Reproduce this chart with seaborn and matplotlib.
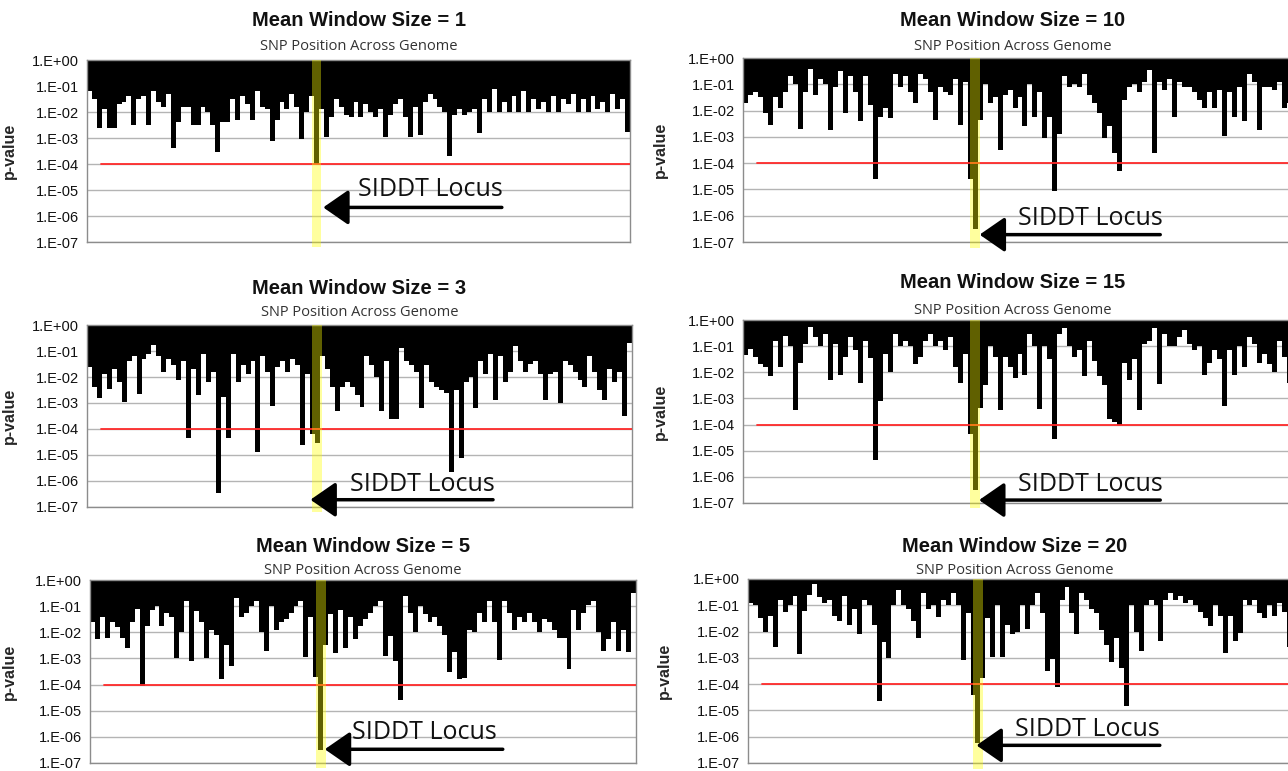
import numpy as np
import pandas as pd
import seaborn as sns
import matplotlib.pyplot as plt

# log10(p-value) per SNP window left to right
win1 = [-1.2, -1.5, -2.6, -1.9, -2.6, -2.6, -1.7, -1.6, -1.4, -2.5, -1.5, -1.4, -2.5, -1.2, -1.6, -1.8,
        -1.3, -3.4, -2.4, -1.8, -1.8, -2.5, -2.5, -1.8, -2.0, -2.5, -3.55, -2.4, -2.4, -1.5, -2.3, -1.4,
        -1.7, -2.3, -1.2, -1.8, -1.9, -3.1, -2.3, -1.6, -1.9, -1.3, -1.8, -3.05, -2.0, -1.4, -4.0, -1.9,
        -2.95, -2.2, -1.5, -1.8, -2.1, -2.2, -1.6, -2.2, -1.7, -2.0, -2.2, -1.9, -2.95, -2.1, -1.7, -1.5,
        -2.2, -2.95, -1.8, -2.9, -1.6, -1.3, -1.5, -1.8, -2.0, -3.7, -2.1, -1.9, -2.1, -2.0, -1.9, -2.8,
        -1.5, -2.0, -1.1, -2.0, -1.6, -2.0, -1.4, -2.0, -1.2, -2.0, -1.5, -1.9, -1.6, -2.0, -1.4, -2.0,
        -1.5, -1.7, -1.3, -2.0, -1.5, -2.0, -1.4, -1.9, -1.6, -2.0, -1.3, -1.9, -1.5, -2.75]
win3 = [-1.6, -2.4, -2.8, -1.9, -2.45, -1.7, -2.2, -2.95, -1.4, -1.2, -2.65, -1.3, -1.1, -0.75, -1.2, -1.8,
        -1.3, -1.55, -2.1, -1.4, -4.35, -1.7, -2.7, -1.1, -2.2, -1.8, -6.45, -2.75, -4.35, -1.1, -2.2, -1.55,
        -1.9, -1.4, -4.9, -1.2, -1.8, -3.1, -1.6, -1.4, -1.8, -1.3, -1.55, -4.6, -1.9, -4.2, -4.55, -1.2,
        -1.7, -2.4, -3.3, -2.4, -2.2, -2.4, -2.7, -3.15, -1.2, -1.55, -2.0, -3.3, -1.4, -3.6, -3.6, -0.9,
        -1.4, -1.55, -1.8, -3.2, -1.55, -2.2, -2.4, -2.5, -2.6, -5.65, -2.5, -5.1, -2.2, -2.0, -3.2, -1.4,
        -1.9, -1.1, -2.9, -1.2, -2.2, -1.8, -0.8, -1.4, -1.8, -1.5, -1.4, -1.9, -2.9, -1.9, -1.8, -3.0,
        -1.4, -1.55, -1.8, -2.1, -2.4, -1.2, -1.8, -2.5, -2.9, -1.7, -2.2, -1.8, -3.5, -0.7]
win5 = [-1.6, -2.25, -1.4, -2.2, -1.6, -1.8, -2.2, -2.6, -1.6, -1.1, -4.05, -1.75, -1.15, -1.0, -1.75, -1.25,
        -1.4, -3.0, -2.0, -0.8, -3.1, -1.2, -1.6, -3.0, -1.9, -2.1, -3.8, -2.5, -3.3, -0.7, -1.4, -1.25,
        -1.0, -0.8, -2.0, -2.7, -1.0, -1.9, -1.6, -1.5, -1.25, -1.0, -0.8, -2.95, -1.4, -3.7, -6.5, -2.5,
        -1.3, -2.8, -1.15, -2.6, -1.4, -2.25, -1.75, -1.5, -1.25, -1.0, -0.8, -2.9, -2.15, -3.1, -4.6, -0.6,
        -1.25, -2.0, -1.0, -1.3, -1.6, -1.4, -1.75, -2.1, -3.5, -2.75, -3.8, -3.75, -1.9, -2.0, -1.25, -1.6,
        -0.8, -1.6, -3.05, -0.8, -1.25, -1.9, -1.4, -1.6, -1.25, -1.6, -2.0, -1.5, -1.6, -1.9, -2.2, -2.2,
        -3.4, -1.15, -1.9, -1.25, -0.95, -0.8, -2.0, -2.7, -2.25, -1.6, -2.7, -1.9, -2.75, -0.5]
win10 = [-1.7, -1.4, -1.3, -1.5, -2.1, -2.55, -1.5, -1.9, -1.3, -0.7, -1.0, -2.7, -1.3, -0.4, -1.4, -0.8,
         -1.0, -2.75, -1.1, -0.5, -2.1, -0.7, -1.3, -2.4, -0.7, -1.8, -4.6, -2.25, -1.9, -2.3, -0.6, -1.1,
         -0.7, -1.3, -1.7, -0.6, -0.8, -1.3, -2.35, -1.1, -1.3, -1.4, -0.8, -2.55, -0.9, -4.6, -6.5, -2.35,
         -1.0, -1.7, -1.5, -3.5, -1.4, -1.2, -1.9, -1.5, -2.6, -1.0, -2.25, -1.3, -3.05, -2.25, -5.05, -2.9,
         -0.7, -1.1, -1.0, -1.1, -0.6, -1.4, -1.7, -2.1, -3.05, -2.6, -3.6, -4.3, -1.6, -1.1, -1.0, -1.3,
         -0.9, -0.45, -3.6, -0.9, -1.2, -0.8, -2.25, -0.9, -1.1, -1.1, -1.3, -1.6, -1.9, -1.3, -1.9, -1.2,
         -2.95, -1.3, -2.25, -1.1, -2.4, -0.6, -0.9, -2.75, -1.1, -1.1, -1.2, -0.9, -1.9, -1.7]
win15 = [-1.35, -1.1, -1.4, -1.7, -1.8, -2.15, -0.8, -1.8, -0.6, -1.0, -3.45, -1.65, -0.9, -0.25, -0.65, -1.0,
         -0.55, -2.3, -0.9, -2.1, -1.4, -0.65, -1.15, -2.4, -0.8, -1.45, -5.35, -3.1, -1.3, -2.0, -0.55, -1.0,
         -0.8, -1.0, -1.7, -1.4, -0.8, -0.55, -1.0, -0.8, -1.15, -0.65, -1.8, -2.4, -1.3, -4.35, -6.5, -3.35,
         -2.5, -1.0, -1.4, -3.45, -1.4, -1.8, -2.2, -1.3, -2.1, -0.55, -1.0, -3.4, -1.0, -1.5, -4.55, -0.55,
         -0.3, -1.0, -1.4, -1.15, -2.15, -0.8, -1.55, -2.15, -2.5, -3.8, -3.9, -4.0, -1.65, -2.3, -1.5, -3.45,
         -0.9, -0.8, -0.3, -2.45, -0.55, -1.0, -1.0, -0.65, -0.4, -0.9, -1.15, -1.0, -2.1, -1.65, -1.15, -1.5,
         -3.3, -1.15, -2.1, -1.0, -1.8, -0.65, -0.9, -1.65, -1.3, -1.7, -2.0, -0.8, -1.4, -2.4]
win20 = [-0.9, -1.0, -1.5, -2.0, -1.4, -2.6, -0.8, -1.25, -1.0, -0.65, -2.85, -1.2, -0.6, -0.2, -0.7, -0.9,
         -0.8, -1.4, -1.6, -0.65, -1.75, -1.15, -2.1, -0.8, -1.0, -1.75, -4.65, -2.4, -3.0, -1.0, -0.4, -1.0,
         -1.15, -1.6, -2.25, -0.55, -1.15, -1.0, -1.45, -0.8, -1.0, -0.55, -1.0, -3.1, -1.3, -4.4, -6.25, -3.75,
         -1.5, -2.95, -1.0, -2.95, -1.75, -2.1, -2.0, -1.0, -1.9, -1.0, -0.55, -1.3, -3.5, -3.05, -4.1, -0.8,
         -0.3, -1.3, -2.1, -0.55, -0.8, -1.15, -1.3, -1.95, -2.5, -3.15, -2.25, -3.4, -4.85, -1.0, -2.0, -2.75,
         -1.0, -0.8, -1.0, -2.35, -0.8, -0.55, -0.8, -0.65, -0.9, -0.8, -1.0, -1.25, -1.5, -1.8, -1.0, -1.4,
         -2.8, -1.4, -2.35, -2.05, -0.8, -1.0, -0.8, -1.3, -1.5, -1.0, -1.4, -0.9, -1.25, -2.6]

window_sizes = [1, 10, 3, 15, 5, 20]
series = [win1, win10, win3, win15, win5, win20]
locus_index = 46          # SIDDT locus SNP
threshold = 1e-4
decades = [0, -1, -2, -3, -4, -5, -6, -7]
tick_labels = ["1.E+00", "1.E-01", "1.E-02", "1.E-03", "1.E-04", "1.E-05", "1.E-06", "1.E-07"]

W, H = 1288, 771

# panel boxes in pixels (left, right, top, bottom) and annotation spots in axes fraction
boxes = [(87, 630, 60, 242), (743, 1292, 58, 242),
         (87, 632, 325, 507), (743, 1292, 320, 503),
         (90, 636, 580, 763), (748, 1292, 579, 763)]
notes = [(0.50, 0.286, 0.19, 0.435, 0.764),
         (0.50, 0.13, 0.04, 0.431, 0.76),
         (0.483, 0.126, 0.04, 0.41, 0.745),
         (0.50, 0.10, 0.016, 0.43, 0.76),
         (0.48, 0.165, 0.075, 0.43, 0.756),
         (0.49, 0.18, 0.096, 0.42, 0.757)]
title_gap = [(40, 13), (38, 11), (37, 12), (38, 10), (34, 9), (32, 8)]
label_x = [17, 668, 17, 668, 17, 672]

sns.set_theme(style="white")
plt.rcParams['font.family'] = ['Liberation Sans', 'DejaVu Sans']

fig = plt.figure(figsize=(W / 100, H / 100), dpi=100)

for k, (ws, vals) in enumerate(zip(window_sizes, series)):
    l, r, t, b = boxes[k]
    ax = fig.add_axes([l / W, 1 - b / H, (r - l) / W, (b - t) / H])
    df = pd.DataFrame({"snp": np.arange(len(vals)), "p": 10.0 ** np.array(vals)})

    ax.set_yscale("log")
    ax.set_ylim(1e-7, 1)
    ax.set_xlim(-0.5, len(vals) - 0.5)

    # columns hang from 1.0 down to each p-value
    ax.fill_between(df["snp"], df["p"], 1.0, step="mid", color="black", lw=0, zorder=2)
    ax.fill_between([-0.5, 0], [df["p"].iloc[0]] * 2, 1.0, color="black", lw=0, zorder=2)
    ax.fill_between([len(vals) - 1, len(vals) - 0.5], [df["p"].iloc[-1]] * 2, 1.0,
                    color="black", lw=0, zorder=2)

    ax.axhline(threshold, xmin=0.025, xmax=1, color="#ff2a2a", lw=1.3, zorder=3)

    # highlighted locus band
    ax.axvspan(locus_index - 1.0, locus_index + 1.0, ymin=-0.03, ymax=1.0,
               color="#ffff00", alpha=0.38, lw=0, zorder=4, clip_on=False)

    ax.set_yticks([10.0 ** d for d in decades])
    ax.set_yticklabels(tick_labels, fontsize=10.5, color="#111111")
    ax.set_xticks([])
    ax.yaxis.grid(True, which="major", color="#b4b4b4", lw=1)
    ax.set_axisbelow(True)
    ax.tick_params(axis="y", which="major", length=3, color="#888888", pad=3)
    ax.tick_params(axis="y", which="minor", length=2, color="#999999", left=True)
    for sp in ax.spines.values():
        sp.set_color("#8c8c8c")
        sp.set_linewidth(1.0)
    ax.set_ylabel("p-value", fontsize=11.5, fontweight="bold")
    ax.yaxis.set_label_coords((label_x[k] - l) / (r - l), 0.5)

    cx = (l + r) / 2 if k % 2 == 0 else (l + 1288) / 2 - 3
    tg, sg = title_gap[k]
    fig.text(cx / W, 1 - (t - tg) / H, f"Mean Window Size = {ws}", ha="center", va="center",
             fontsize=14.5, fontweight="bold", color="#111111")
    fig.text(cx / W, 1 - (t - sg) / H, "SNP Position Across Genome", ha="center", va="center",
             fontsize=10.5, color="#333333", family=["Open Sans", "DejaVu Sans"])

    tx, ty, ay, tip, tail = notes[k]
    ax.text(tx, ty, "SIDDT Locus", transform=ax.transAxes, ha="left", va="center",
            fontsize=18, color="#111111", family=["Open Sans", "DejaVu Sans"], zorder=6)
    ax.annotate("", xy=(tip, ay), xytext=(tail, ay), xycoords="axes fraction",
                 arrowprops=dict(arrowstyle="-|>,head_length=1.3,head_width=0.9",
                                 color="black", lw=2.5, shrinkA=0, shrinkB=0),
                 zorder=6, annotation_clip=False)

fig.savefig("out.png", dpi=100)
